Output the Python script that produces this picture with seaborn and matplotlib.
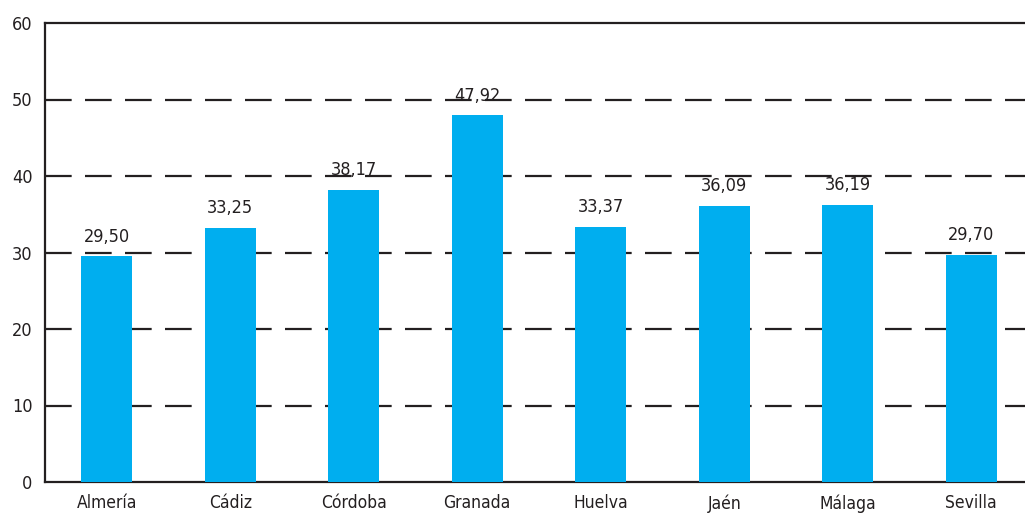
import matplotlib
matplotlib.use("Agg")
import matplotlib.pyplot as plt
import seaborn as sns
import pandas as pd

provincias = ["Almería", "Cádiz", "Córdoba", "Granada", "Huelva", "Jaén", "Málaga", "Sevilla"]
valores = [29.50, 33.25, 38.17, 47.92, 33.37, 36.09, 36.19, 29.70]
yticks = [0, 10, 20, 30, 40, 50, 60]

sns.set_style("white")
plt.rcParams['font.family'] = ['DejaVu Sans']
plt.rcParams['font.stretch'] = 'condensed'

df = pd.DataFrame({"Provincia": provincias, "Valor": valores})

fig = plt.figure(figsize=(10.25, 5.17), dpi=100)
# el eje se sale un poco por la derecha, como en el original
ax = fig.add_axes([45 / 1025, 1 - 482 / 517, 988 / 1025, 459 / 517])

sns.barplot(data=df, x="Provincia", y="Valor", color="#00AEEF", width=0.41,
            saturation=1, linewidth=0, edgecolor="none", ax=ax, zorder=3)

# rejilla discontinua
for y in yticks[1:-1]:
    ax.axhline(y, color="#231f20", lw=1.6, dashes=(12, 6), zorder=1)

ax.set_ylim(0, 60)
ax.set_xlim(-0.5, len(provincias) - 0.5)
ax.set_yticks(yticks)
ax.set_xticks([i + 0.5 for i in range(-1, len(provincias))], minor=True)
ax.set_xticks(range(len(provincias)))
ax.set_xticklabels(provincias)
ax.tick_params(axis="x", which="major", length=0, labelsize=12.5, pad=9, colors="#231f20")
ax.tick_params(axis="x", which="minor", length=5, width=1.5, direction="out", color="#231f20")
ax.tick_params(axis="y", length=5, width=1.5, direction="out", labelsize=13, color="#231f20",
               labelcolor="#231f20", pad=4)
ax.set_xlabel("")
ax.set_ylabel("")

for s in ["left", "bottom", "top"]:
    ax.spines[s].set_visible(True)
    ax.spines[s].set_color("#231f20")
    ax.spines[s].set_linewidth(1.6)
ax.spines["right"].set_visible(False)

for i, v in enumerate(valores):
    ax.text(i, v + 1.4, f"{v:.2f}".replace(".", ","), ha="center", va="bottom",
            fontsize=13, color="#231f20")

fig.savefig("out.png", dpi=100)
